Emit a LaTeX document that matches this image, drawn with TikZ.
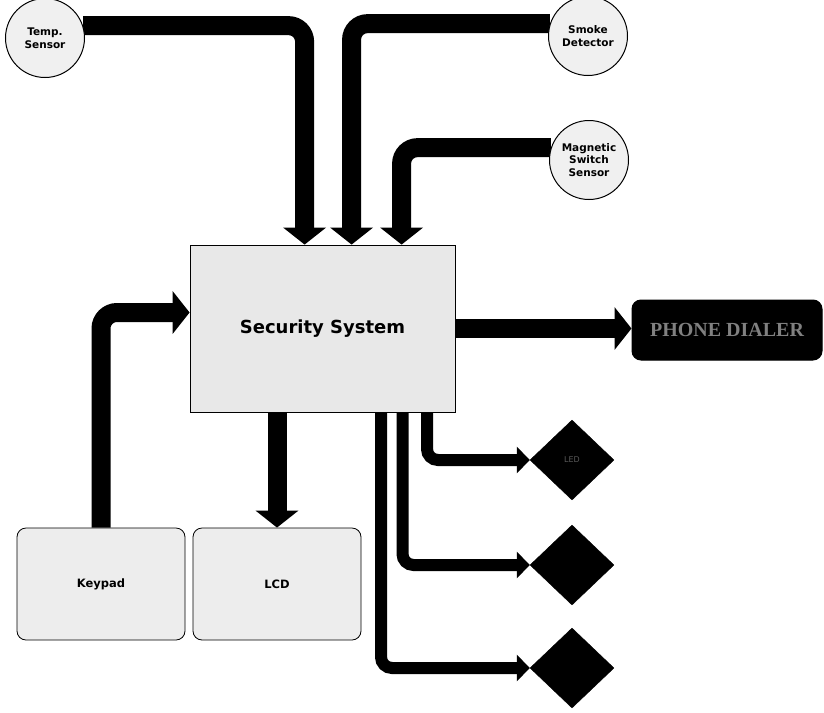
\documentclass[tikz,border=0pt]{standalone}
\usepackage{fontspec}
\setmainfont{DejaVu Sans}
\newfontfamily\serifdial{Liberation Serif}
\usetikzlibrary{arrows.meta,shapes.geometric,backgrounds,calc}
\tikzset{
  sensor/.style={circle,draw=black,line width=1pt,fill=black!6,minimum size=79pt,inner sep=0pt,align=center,font=\bfseries\fontsize{10.5}{12.5}\selectfont},
  mainbox/.style={rectangle,draw=black,line width=0.8pt,fill=black!9,minimum width=265pt,minimum height=167pt,inner sep=0pt,font=\bfseries\fontsize{18}{21}\selectfont},
  iobox/.style={rectangle,rounded corners=9pt,draw=black,line width=0.8pt,fill=black!7,minimum width=168pt,minimum height=112pt,inner sep=0pt,font=\bfseries\fontsize{11.5}{13}\selectfont},
  dialer/.style={rectangle,rounded corners=9pt,draw=black,line width=1pt,fill=black,minimum width=190pt,minimum height=60pt,inner sep=0pt,text=black!50,font=\serifdial\bfseries\fontsize{20}{22}\selectfont},
  outdiamond/.style={diamond,draw=black,fill=black,minimum width=84pt,minimum height=80pt,inner sep=0pt,text=black!65,font=\fontsize{8}{9}\selectfont},
  bigarrow/.style={draw=black,line width=19pt,rounded corners=16pt,-{Triangle[width=42pt,length=17pt]}},
  smallarrow/.style={draw=black,line width=12pt,rounded corners=11pt,-{Triangle[width=26pt,length=13pt]}}
}
\begin{document}
\begin{tikzpicture}[x=1pt,y=-1pt]
\useasboundingbox (0,0) rectangle (824,712);
\node[sensor] (temp) at (45,38) {Temp.\\Sensor};
\node[sensor] (smoke) at (588,36) {Smoke\\Detector};
\node[sensor] (mag) at (589,160) {Magnetic\\Switch\\Sensor};
\node[mainbox] (sec) at (322.5,328.5) {Security System};
\node[dialer] (phone) at (727,330) {PHONE DIALER};
\node[iobox] (keypad) at (101,584) {Keypad};
\node[iobox] (lcd) at (277,584) {LCD};
\node[outdiamond] (led1) at (572,460) {LED};
\node[outdiamond] (led2) at (572,565) {};
\node[outdiamond] (led3) at (572,668) {};
\begin{scope}[on background layer]
\draw[bigarrow] (temp.18) -| ([xshift=115pt]sec.north west);
\draw[bigarrow] (smoke.162) -| ([xshift=162pt]sec.north west);
\draw[bigarrow] (mag.162) -| ([xshift=212pt]sec.north west);
\draw[bigarrow] (keypad.north) |- ([yshift=16pt]sec.west);
\draw[bigarrow] (sec.south -| lcd.north) -- (lcd.north);
\draw[bigarrow] (sec.east) -- (sec.east -| phone.west);
\draw[smallarrow] ([xshift=104.5pt]sec.south) |- (led1.west);
\draw[smallarrow] ([xshift=80pt]sec.south) |- (led2.west);
\draw[smallarrow] ([xshift=58.5pt]sec.south) |- (led3.west);
\end{scope}
\end{tikzpicture}
\end{document}
